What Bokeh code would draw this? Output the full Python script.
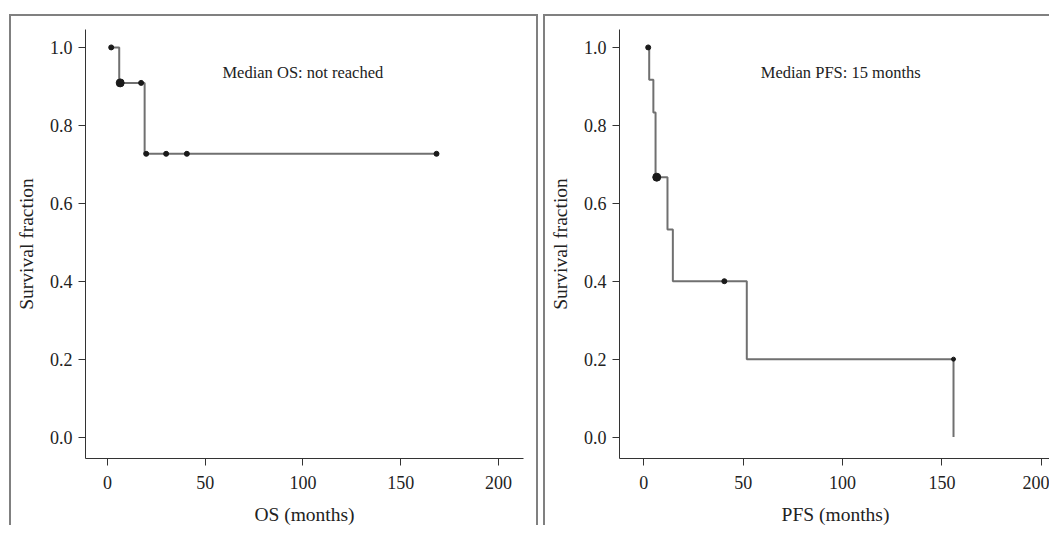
from bokeh.plotting import figure
from bokeh.layouts import row
from bokeh.models import Range1d, SingleIntervalTicker, Label, NumeralTickFormatter
from bokeh.embed import file_html
from bokeh.resources import INLINE

# ---- data ----
os_times = [1.0, 6.0, 19.0, 168.0]
os_surv = [1.0, 0.909, 0.727, 0.727]
os_cens_times = [1.9, 6.5, 17.2, 19.8, 30.0, 40.6, 168.3]
os_cens_surv = [1.0, 0.909, 0.909, 0.727, 0.727, 0.727, 0.727]
os_cens_size = [5, 8, 5, 5, 5, 5, 5]

pfs_times = [2.2, 2.7, 4.8, 5.9, 11.9, 14.6, 51.8, 155.8]
pfs_surv = [1.0, 0.917, 0.833, 0.667, 0.533, 0.4, 0.2, 0.0]
pfs_cens_times = [2.2, 6.5, 40.5, 155.8]
pfs_cens_surv = [1.0, 0.667, 0.4, 0.2]
pfs_cens_size = [5, 8, 5, 4]

x_labels = ["OS (months)", "PFS (months)"]
notes = ["Median OS: not reached", "Median PFS: 15 months"]
y_label = "Survival fraction"

FONT = "Liberation Serif"
BORDER = "2px solid #808080"


def panel(times, surv, ctimes, csurv, csize, xlab, note, width, xr, borders):
    p = figure(width=width, height=511, output_backend="svg", toolbar_location=None,
               x_range=Range1d(*xr), y_range=Range1d(-0.055, 1.046),
               min_border_left=74, min_border_top=13, min_border_bottom=68,
               min_border_right=borders.pop("mbr"))
    p.styles = borders
    p.outline_line_color = None
    p.grid.visible = False
    p.background_fill_color = "white"
    p.border_fill_color = "white"

    p.step(times, surv, mode="after", line_color="#707070", line_width=2)
    p.scatter(ctimes, csurv, size=csize, color="#1a1a1a")

    p.xaxis.ticker = SingleIntervalTicker(interval=50)
    p.yaxis.ticker = SingleIntervalTicker(interval=0.2)
    p.yaxis.formatter = NumeralTickFormatter(format="0.0")
    for ax in (p.xaxis, p.yaxis):
        ax.axis_line_color = "#333333"
        ax.major_tick_line_color = "#333333"
        ax.major_tick_out = 7
        ax.major_tick_in = 0
        ax.minor_tick_line_color = None
        ax.major_label_text_font = FONT
        ax.major_label_text_font_size = "18px"
        ax.major_label_text_color = "#222222"
        ax.axis_label_text_font = FONT
        ax.axis_label_text_font_size = "19.5px"
        ax.axis_label_text_font_style = "normal"
        ax.axis_label_text_color = "#222222"
    p.xaxis.axis_label = xlab
    p.yaxis.axis_label = y_label
    p.xaxis.major_label_standoff = 10
    p.yaxis.major_label_standoff = 6
    p.xaxis.axis_label_standoff = 12
    p.yaxis.axis_label_standoff = 10

    p.add_layout(Label(x=58.8, y=0.936, text=note, text_font=FONT,
                       text_font_size="16.5px", text_color="#222222",
                       text_baseline="middle", text_align="left"))
    return p


p1 = panel(os_times, os_surv, os_cens_times, os_cens_surv, os_cens_size,
           x_labels[0], notes[0], 529, (-11.25, 212.8),
           {"border-top": BORDER, "border-left": BORDER, "border-right": BORDER, "mbr": 17})
p1.margin = (14, 0, 0, 9)

p2 = panel(pfs_times, pfs_surv, pfs_cens_times, pfs_cens_surv, pfs_cens_size,
           x_labels[1], notes[1], 506, (-12.24, 205.1),
           {"border-top": BORDER, "border-left": BORDER, "mbr": 0})
p2.margin = (14, 0, 0, 5)

layout = row(p1, p2)
open("out.html", "w").write(file_html(layout, INLINE))
